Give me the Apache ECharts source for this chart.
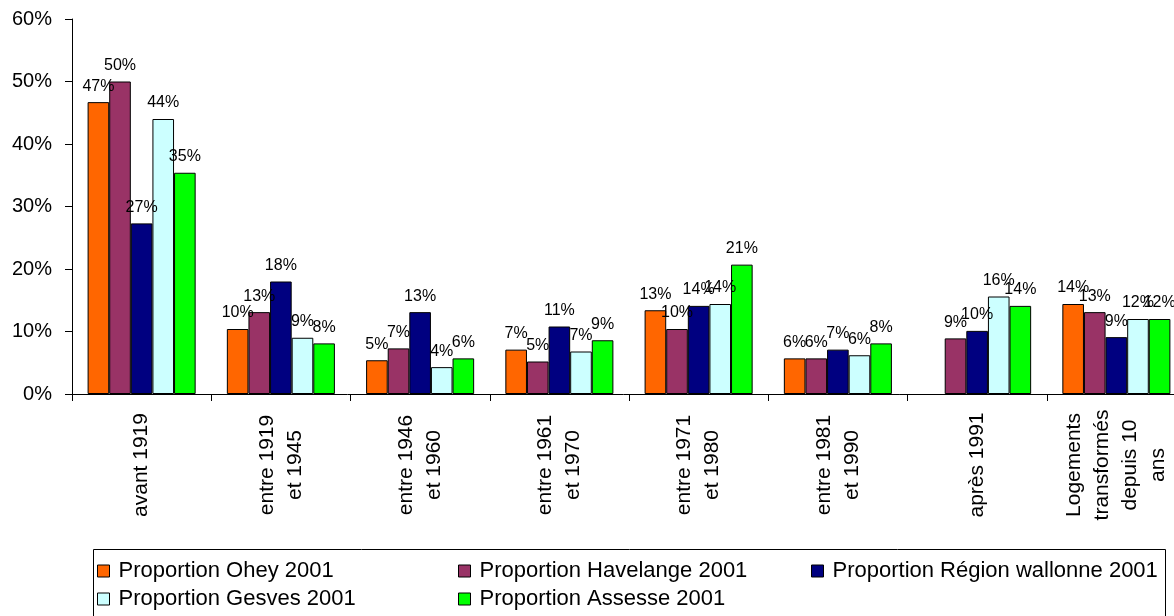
<!DOCTYPE html>
<html>
<head>
<meta charset="utf-8">
<script src="https://cdn.jsdelivr.net/npm/echarts@6/dist/echarts.min.js"></script>
<style>
html,body{margin:0;padding:0;background:#fff;}
#chart{width:1174px;height:616px;}
</style>
</head>
<body>
<div id="chart"></div>
<script>
const categories = ['avant 1919', 'entre 1919\net 1945', 'entre 1946\net 1960', 'entre 1961\net 1970', 'entre 1971\net 1980', 'entre 1981\net 1990', 'après 1991', 'Logements\ntransformés\ndepuis 10\nans'];
const seriesNames = ['Proportion Ohey 2001', 'Proportion Havelange 2001', 'Proportion Région wallonne 2001', 'Proportion Gesves 2001', 'Proportion Assesse 2001'];
const ohey = [46.7, 10.4, 5.4, 7.1, 13.4, 5.7, '-', 14.4];
const havelange = [50.0, 13.1, 7.3, 5.2, 10.4, 5.7, 8.9, 13.1];
const region = [27.3, 18.0, 13.1, 10.8, 14.1, 7.1, 10.1, 9.1];
const gesves = [44.0, 9.0, 4.3, 6.8, 14.4, 6.2, 15.6, 12.0];
const assesse = [35.4, 8.1, 5.7, 8.6, 20.7, 8.1, 14.1, 12.0];
const colors = ['#FF6600', '#993366', '#000080', '#CCFFFF', '#00FF00'];
const yTicks = [0, 10, 20, 30, 40, 50, 60];

const FONT = 'Arial, "Liberation Sans", sans-serif';
const allData = [ohey, havelange, region, gesves, assesse];

const series = allData.map((d, i) => ({
  name: seriesNames[i],
  type: 'bar',
  data: d,
  barGap: '0%',
  barCategoryGap: '22.4%',
  itemStyle: { color: colors[i], borderColor: '#000', borderWidth: 1 },
  label: {
    show: true,
    position: 'top',
    distance: 8,
    color: '#000',
    fontFamily: FONT,
    fontSize: 16,
    formatter: p => Math.round(p.value) + '%'
  },
  emphasis: { disabled: true },
  animation: false
}));

const legendPos = [
  { left: 97, top: 560 },
  { left: 458, top: 560 },
  { left: 811, top: 560 },
  { left: 97, top: 588 },
  { left: 458, top: 588 }
];
const legends = seriesNames.map((n, i) => ({
  data: [n],
  left: legendPos[i].left,
  top: legendPos[i].top,
  padding: 0,
  icon: 'rect',
  itemWidth: 12,
  itemHeight: 12,
  itemStyle: { borderColor: '#000', borderWidth: 1 },
  selectedMode: false,
  textStyle: { fontFamily: FONT, fontSize: 22, color: '#000', padding: [0, 0, 0, 4] }
}));

const chart = echarts.init(document.getElementById('chart'));
chart.setOption({
  backgroundColor: '#fff',
  animation: false,
  grid: { left: 72, top: 19, width: 1114, height: 375, outerBoundsMode: 'none' },
  legend: legends,
  graphic: [{
    type: 'rect',
    shape: { x: 93.5, y: 549.5, width: 1072, height: 90 },
    style: { fill: 'none', stroke: '#000', lineWidth: 1 },
    silent: true
  }],
  xAxis: {
    type: 'category',
    data: categories,
    axisLine: { lineStyle: { color: '#000', width: 1 } },
    axisTick: { show: true, length: 7, lineStyle: { color: '#000' } },
    axisLabel: {
      rotate: 90,
      align: 'center',
      verticalAlign: 'middle',
      margin: 71,
      fontFamily: FONT,
      fontSize: 21,
      lineHeight: 28,
      color: '#000',
      interval: 0
    },
    splitLine: { show: false }
  },
  yAxis: {
    type: 'value',
    min: yTicks[0],
    max: yTicks[yTicks.length - 1],
    interval: 10,
    axisLine: { show: true, lineStyle: { color: '#000', width: 1 } },
    axisTick: { show: true, length: 7, lineStyle: { color: '#000' } },
    axisLabel: {
      formatter: '{value}%',
      fontFamily: FONT,
      fontSize: 20,
      color: '#000',
      margin: 20
    },
    splitLine: { show: false }
  },
  series: series
});
</script>
</body>
</html>
